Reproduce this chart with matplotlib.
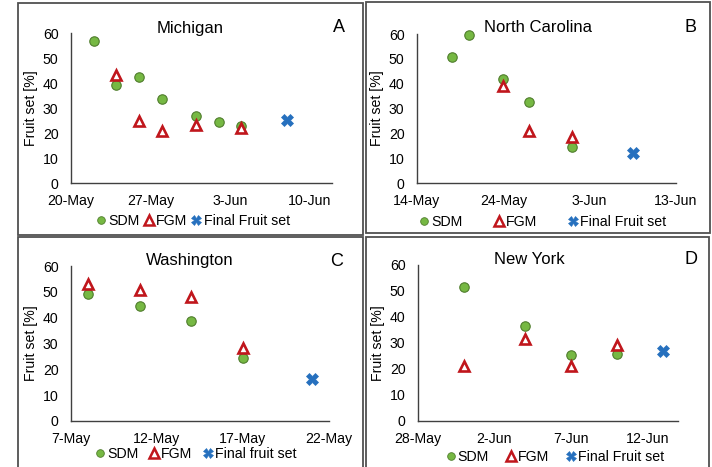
import datetime as dt
import matplotlib
matplotlib.use("Agg")
import matplotlib.pyplot as plt
import matplotlib.dates as mdates
from matplotlib.lines import Line2D
from matplotlib.patches import Rectangle
from matplotlib.ticker import FuncFormatter

plt.rcParams["font.family"] = ["Liberation Sans", "DejaVu Sans"]

W, H = 712, 467
YEAR = 2019

# Michigan
mi_sdm_dates = ["05-22", "05-24", "05-26", "05-28", "05-31", "06-02", "06-04"]
mi_sdm = [57, 39.3, 42.4, 33.6, 26.7, 24.4, 22.9]
mi_fgm_dates = ["05-24", "05-26", "05-28", "05-31", "06-04"]
mi_fgm = [43.2, 24.9, 20.7, 23.3, 22.0]
mi_final_dates = ["06-08"]
mi_final = [25.3]

# North Carolina
nc_sdm_dates = ["05-18", "05-20", "05-24", "05-27", "06-01"]
nc_sdm = [50.8, 59.7, 41.9, 32.7, 14.6]
nc_fgm_dates = ["05-24", "05-27", "06-01"]
nc_fgm = [38.9, 20.9, 18.6]
nc_final_dates = ["06-08"]
nc_final = [11.9]

# Washington
wa_sdm_dates = ["05-08", "05-11", "05-14", "05-17"]
wa_sdm = [49.2, 44.5, 38.6, 24.2]
wa_fgm_dates = ["05-08", "05-11", "05-14", "05-17"]
wa_fgm = [52.9, 50.6, 48.0, 28.3]
wa_final_dates = ["05-21"]
wa_final = [16.4]

# New York
ny_sdm_dates = ["05-31", "06-04", "06-07", "06-10"]
ny_sdm = [51.4, 36.7, 25.4, 25.6]
ny_fgm_dates = ["05-31", "06-04", "06-07", "06-10"]
ny_fgm = [21.3, 31.5, 21.0, 29.2]
ny_final_dates = ["06-13"]
ny_final = [27.1]


def d(s):
    m, day = s.split("-")
    return dt.date(YEAR, int(m), int(day))


def fx(px):
    return px / W


def fy(py):
    return 1 - py / H


def date_fmt(x, pos):
    t = mdates.num2date(x)
    return f"{t.day}-{t.strftime('%b')}"


GREEN = "#76b843"
GREEN_EDGE = "#4f7d2c"
RED = "#c0161c"
BLUE = "#2670be"

panels = [
    dict(box=(18, 3, 363, 235), ax=(71, 332, 33, 183), title="Michigan", tpos=(190, 28),
         letter="A", lpos=(339, 28), xmin="05-20", xmax="06-12", step=7,
         sdm=(mi_sdm_dates, mi_sdm), fgm=(mi_fgm_dates, mi_fgm), fin=(mi_final_dates, mi_final),
         fin_label="Final Fruit set", leg=(193, 221), colsp=0.3),
    dict(box=(366, 2, 710, 233), ax=(417, 676, 34, 183), title="North Carolina", tpos=(538, 27),
         letter="B", lpos=(690, 28), xmin="05-14", xmax="06-13", step=10,
         sdm=(nc_sdm_dates, nc_sdm), fgm=(nc_fgm_dates, nc_fgm), fin=(nc_final_dates, nc_final),
         fin_label="Final Fruit set", leg=(543, 222), colsp=2.2),
    dict(box=(18, 237, 363, 470), ax=(71, 329, 266, 421), title="Washington", tpos=(190, 261),
         letter="C", lpos=(337, 261), xmin="05-07", xmax="05-22", step=5,
         sdm=(wa_sdm_dates, wa_sdm), fgm=(wa_fgm_dates, wa_fgm), fin=(wa_final_dates, wa_final),
         fin_label="Final fruit set", leg=(196, 454), colsp=0.75),
    dict(box=(366, 237, 709, 470), ax=(418, 678, 265, 421), title="New York", tpos=(529, 259),
         letter="D", lpos=(691, 259), xmin="05-28", xmax="06-14", step=5,
         sdm=(ny_sdm_dates, ny_sdm), fgm=(ny_fgm_dates, ny_fgm), fin=(ny_final_dates, ny_final),
         fin_label="Final Fruit set", leg=(555, 457), colsp=1.2),
]

fig = plt.figure(figsize=(W / 100, H / 100), dpi=100)

for p in panels:
    x0, y0, x1, y1 = p["box"]
    fig.add_artist(Rectangle((fx(x0), fy(y1)), fx(x1 - x0), (y1 - y0) / H,
                             transform=fig.transFigure, fill=False,
                             edgecolor="#505050", linewidth=1.3))
    l, r, t, b = p["ax"]
    ax = fig.add_axes([fx(l), fy(b), fx(r - l), (b - t) / H])
    ax.set_facecolor("none")

    sd, sv = p["sdm"]
    fd, fv = p["fgm"]
    nd, nv = p["fin"]
    ax.plot([d(s) for s in sd], sv, "o", ms=6.8, mfc=GREEN, mec=GREEN_EDGE, mew=0.8,
            zorder=3, clip_on=False)
    ax.plot([d(s) for s in fd], fv, "^", ms=7.5, mfc="white", mec=RED, mew=1.9,
            zorder=4, clip_on=False)
    ax.plot([d(s) for s in nd], nv, "X", ms=8, mfc=BLUE, mec=BLUE, mew=0.5,
            zorder=4, clip_on=False)

    xmin, xmax = d(p["xmin"]), d(p["xmax"])
    ax.set_xlim(xmin, xmax)
    ax.set_ylim(0, 60)
    ax.set_yticks(range(0, 61, 10))
    ticks = []
    cur = xmin
    while cur <= xmax:
        ticks.append(cur)
        cur = cur + dt.timedelta(days=p["step"])
    ax.set_xticks(ticks)
    ax.xaxis.set_major_formatter(FuncFormatter(date_fmt))

    for s in ["top", "right"]:
        ax.spines[s].set_visible(False)
    for s in ["left", "bottom"]:
        ax.spines[s].set_color("#404040")
        ax.spines[s].set_linewidth(1.0)
    ax.tick_params(axis="both", length=0, labelsize=10.2, colors="black")
    ax.tick_params(axis="y", pad=9)
    ax.tick_params(axis="x", pad=8)
    ax.set_ylabel("Fruit set [%]", fontsize=10.2)
    ax.yaxis.set_label_coords(-0.128, 0.5)

    fig.text(fx(p["tpos"][0]), fy(p["tpos"][1]), p["title"], ha="center", va="center", fontsize=12)
    fig.text(fx(p["lpos"][0]), fy(p["lpos"][1]), p["letter"], ha="center", va="center", fontsize=13)

    handles = [
        Line2D([], [], ls="none", marker="o", ms=5.5, mfc=GREEN, mec=GREEN_EDGE, mew=0.6),
        Line2D([], [], ls="none", marker="^", ms=6.5, mfc="white", mec=RED, mew=1.8),
        Line2D([], [], ls="none", marker="X", ms=6.5, mfc=BLUE, mec=BLUE, mew=0.4),
    ]
    fig.legend(handles, ["SDM", "FGM", p["fin_label"]], loc="center",
               bbox_to_anchor=(fx(p["leg"][0]), fy(p["leg"][1])), ncol=3, frameon=False,
               fontsize=10.2, handlelength=0.7, handletextpad=0.15,
               columnspacing=p["colsp"], borderpad=0, borderaxespad=0)

fig.savefig("out.png", dpi=100)
